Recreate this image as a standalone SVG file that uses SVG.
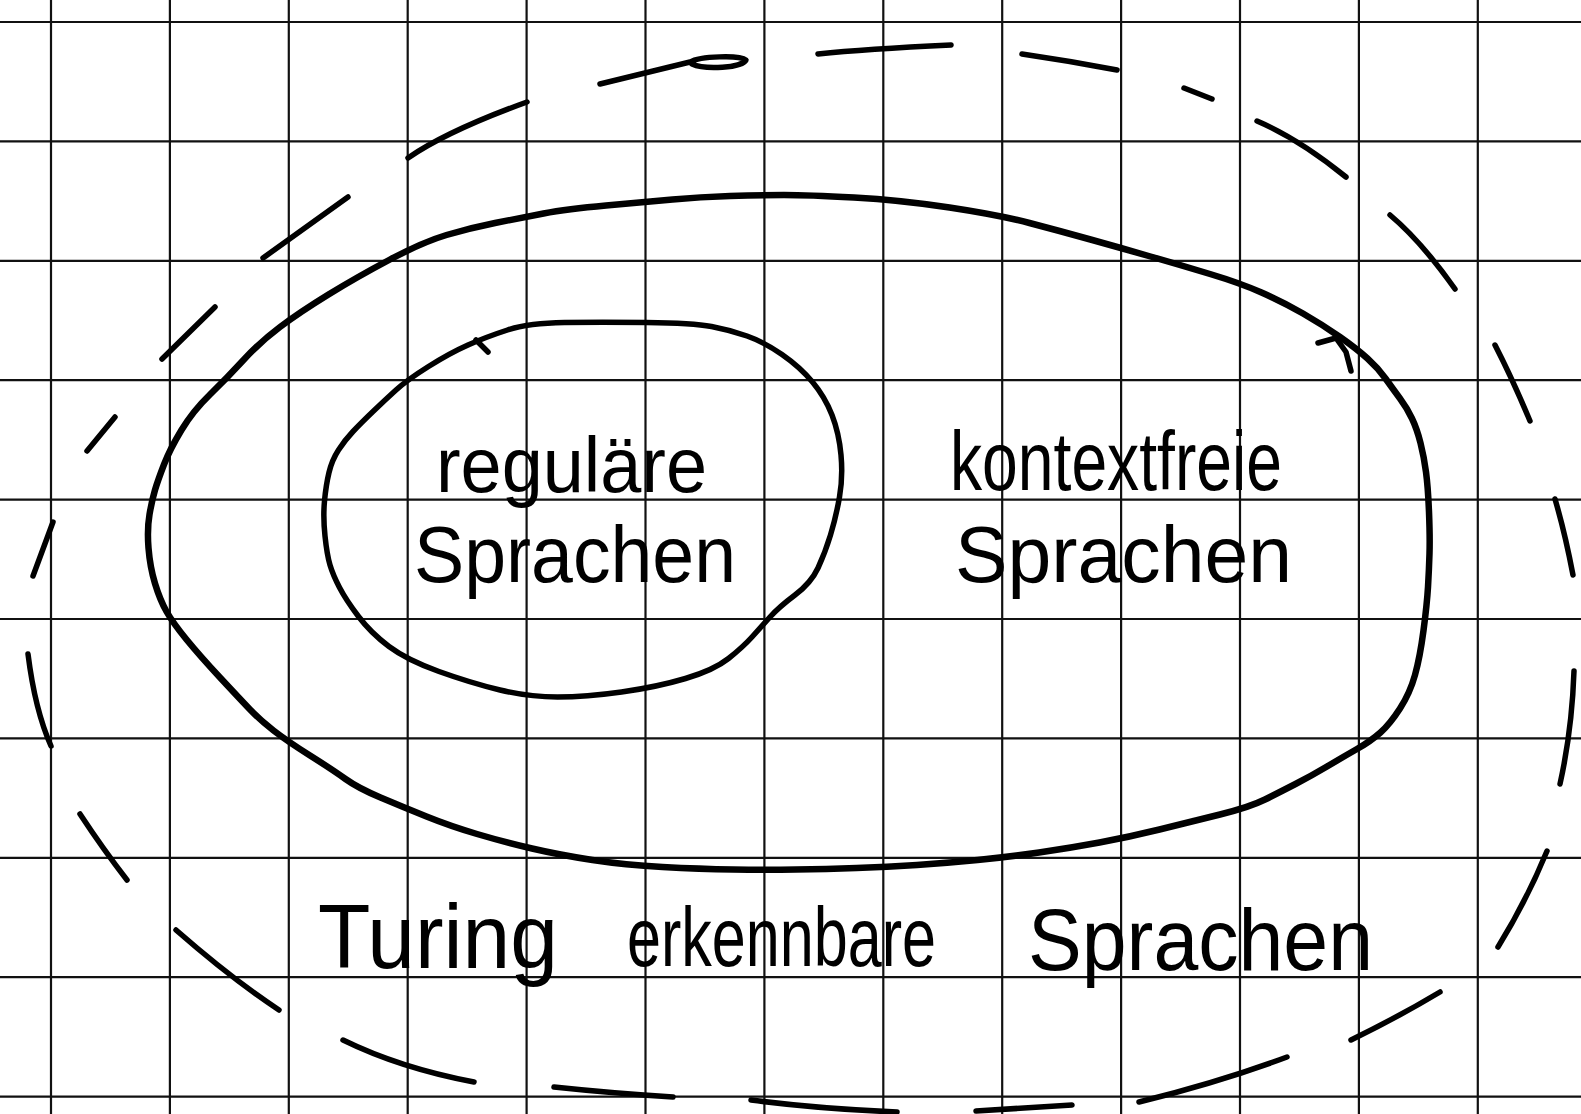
<svg xmlns="http://www.w3.org/2000/svg" width="1581" height="1114" viewBox="0 0 1581 1114">
<style>
.grid line{stroke:#111;stroke-width:2.2}
.ink{fill:none;stroke:#000;stroke-linecap:round;stroke-linejoin:round}
.thick{stroke-width:6.5}
.mid{stroke-width:5.5}
.dash{stroke-width:5.5}
.lbl{font-family:"Liberation Sans","DejaVu Sans",sans-serif;fill:#000}
</style>
<rect width="1581" height="1114" fill="#fff"/>
<g id="grid" class="grid">
<line x1="51" y1="0" x2="51" y2="1114"/>
<line x1="169.9" y1="0" x2="169.9" y2="1114"/>
<line x1="288.8" y1="0" x2="288.8" y2="1114"/>
<line x1="407.7" y1="0" x2="407.7" y2="1114"/>
<line x1="526.6" y1="0" x2="526.6" y2="1114"/>
<line x1="645.5" y1="0" x2="645.5" y2="1114"/>
<line x1="764.4" y1="0" x2="764.4" y2="1114"/>
<line x1="883.3" y1="0" x2="883.3" y2="1114"/>
<line x1="1002.2" y1="0" x2="1002.2" y2="1114"/>
<line x1="1121.1" y1="0" x2="1121.1" y2="1114"/>
<line x1="1240" y1="0" x2="1240" y2="1114"/>
<line x1="1358.9" y1="0" x2="1358.9" y2="1114"/>
<line x1="1477.8" y1="0" x2="1477.8" y2="1114"/>
<line x1="0" y1="22" x2="1581" y2="22"/>
<line x1="0" y1="141.4" x2="1581" y2="141.4"/>
<line x1="0" y1="260.8" x2="1581" y2="260.8"/>
<line x1="0" y1="380.2" x2="1581" y2="380.2"/>
<line x1="0" y1="499.6" x2="1581" y2="499.6"/>
<line x1="0" y1="619" x2="1581" y2="619"/>
<line x1="0" y1="738.4" x2="1581" y2="738.4"/>
<line x1="0" y1="857.8" x2="1581" y2="857.8"/>
<line x1="0" y1="977.2" x2="1581" y2="977.2"/>
<line x1="0" y1="1096.6" x2="1581" y2="1096.6"/>
</g>
<g id="turing-erkennbare">
<g class="ink dash">
<path d="M408,158 Q447,131 527,102"/>
<path d="M600,84 L690,62 C700,56 740,55 746,60 C742,68 705,70 692,64"/>
<path d="M818,54 Q865,49 951,45"/>
<path d="M1022,54 Q1070,61 1117,70"/>
<path d="M1184,88 L1212,99"/>
<path d="M1257,121 Q1299,139 1346,177"/>
<path d="M1390,215 Q1421,241 1455,289"/>
<path d="M1495,345 Q1512,378 1530,421"/>
<path d="M1555,499 Q1565,533 1573,575"/>
<path d="M1574,671 Q1572,730 1560,784"/>
<path d="M1547,851 Q1526,902 1498,947"/>
<path d="M1440,992 Q1400,1016 1351,1040"/>
<path d="M1287,1057 Q1220,1082 1139,1102"/>
<path d="M1072,1105 L976,1111"/>
<path d="M751,1100 Q820,1109 897,1112"/>
<path d="M554,1087 Q610,1093 673,1097"/>
<path d="M343,1040 Q400,1068 474,1082"/>
<path d="M176,930 Q232,979 279,1010"/>
<path d="M80,814 Q103,849 127,880"/>
<path d="M28,654 Q35,710 51,746"/>
<path d="M33,576 L53,522"/>
<path d="M87,451 L115,417"/>
<path d="M162,359 L215,307"/>
<path d="M263,258 L348,197"/>
</g>
<text class="lbl" x="318" y="968" font-size="90" textLength="240" lengthAdjust="spacingAndGlyphs">Turing</text>
<text class="lbl" x="627" y="966" font-size="84" textLength="309" lengthAdjust="spacingAndGlyphs">erkennbare</text>
<text class="lbl" x="1028" y="970" font-size="88" textLength="345" lengthAdjust="spacingAndGlyphs">Sprachen</text>
</g>
<g id="kontextfreie">
<path class="ink thick" d="M784,195 Q808,195 854,197.5 Q900,200 949.5,207.5 Q999,215 1029.5,223 Q1060,231 1090.5,239.5 Q1121,248 1150.5,256.5 Q1180,265 1210,274 Q1240,283 1261.5,292.5 Q1283,302 1303,313.5 Q1323,325 1340,337 Q1357,349 1367.5,358.5 Q1378,368 1385.5,378.5 Q1393,389 1400,398.5 Q1407,408 1412,418.5 Q1417,429 1420.5,443 Q1424,457 1426,472 Q1428,487 1429,512 Q1430,537 1429.5,553.5 Q1429,570 1428,587 Q1427,604 1423.5,630.5 Q1420,657 1415,675 Q1410,693 1400,708.5 Q1390,724 1380.5,732.5 Q1371,741 1357,749 Q1343,757 1327,766.5 Q1311,776 1295.5,784 Q1280,792 1265,799.5 Q1250,807 1220,814.5 Q1190,822 1159.5,829.5 Q1129,837 1099.5,842.5 Q1070,848 1039,852.5 Q1008,857 977.5,860 Q947,863 917,865 Q887,867 856.5,868 Q826,869 796,869.5 Q766,870 733,869.5 Q700,869 662.5,867 Q625,865 592.5,860 Q560,855 532,848.5 Q504,842 477,834 Q450,826 426.5,816.5 Q403,807 380.5,797.5 Q358,788 345.5,779 Q333,770 310,755.5 Q287,741 273.5,730.5 Q260,720 250,709.5 Q240,699 220,677.5 Q200,656 186.5,639.5 Q173,623 166.5,611.5 Q160,600 155,583.5 Q150,567 148.5,548 Q147,529 149.5,514.5 Q152,500 155,490 Q158,480 164,464.5 Q170,449 181.5,430 Q193,411 210,394.5 Q227,378 243.5,360 Q260,342 280,327 Q300,312 328.5,294.5 Q357,277 390,259.5 Q423,242 446.5,235 Q470,228 495,223 Q520,218 543.5,213.5 Q567,209 606,205.5 Q645,202 672.5,199.5 Q700,197 730,196 Q760,195 784,195 Z"/>
<path class="ink mid" d="M1318,343 L1336,338 L1346,352 L1351,371"/>
<text class="lbl" x="950" y="490" font-size="84" textLength="332" lengthAdjust="spacingAndGlyphs">kontextfreie</text>
<text class="lbl" x="955" y="582" font-size="80" textLength="337" lengthAdjust="spacingAndGlyphs">Sprachen</text>
</g>
<g id="regulaere">
<path class="ink mid" d="M507.5,330 Q529,323 564.5,322.5 Q600,322 646.5,322.5 Q693,323 711.5,326.5 Q730,330 747,336 Q764,342 782,354.5 Q800,367 812.5,382 Q825,397 832,415 Q839,433 841,455 Q843,477 839.5,497 Q836,517 830.5,535 Q825,553 818,568 Q811,583 795,595 Q779,607 770,617 Q761,627 752,637 Q743,647 728.5,658.5 Q714,670 685.5,678.5 Q657,687 621.5,692 Q586,697 557.5,697 Q529,697 500,690 Q471,683 439,671.5 Q407,660 389,646.5 Q371,633 358.5,616.5 Q346,600 339.5,587.5 Q333,575 330,565 Q327,555 325,536 Q323,517 324.5,501 Q326,485 329,472.5 Q332,460 338.5,450 Q345,440 353,431.5 Q361,423 373,411.5 Q385,400 396,390 Q407,380 428.5,366.5 Q450,353 468,345 Q486,337 507.5,330 Z"/>
<path class="ink mid" d="M476,340 L488,352"/>
<text class="lbl" x="436" y="492" font-size="78" textLength="271" lengthAdjust="spacingAndGlyphs">reguläre</text>
<text class="lbl" x="414" y="582" font-size="80" textLength="322" lengthAdjust="spacingAndGlyphs">Sprachen</text>
</g>
<g id="connectors"/>
</svg>
